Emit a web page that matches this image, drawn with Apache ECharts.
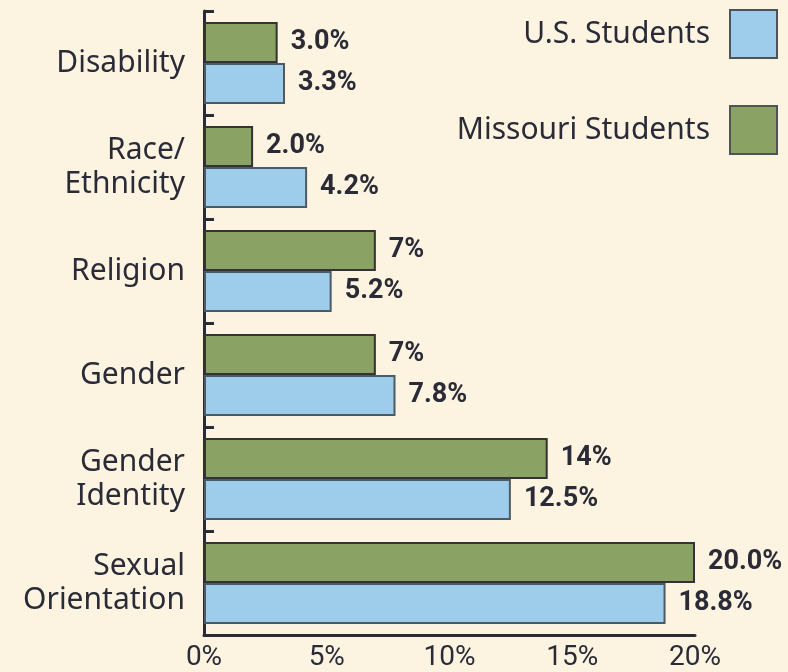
<!DOCTYPE html>
<html>
<head>
<meta charset="utf-8">
<script src="https://cdn.jsdelivr.net/npm/echarts@6/dist/echarts.min.js"></script>
<style>
html,body{margin:0;padding:0;background:#fcf4e0;}
#chart{width:788px;height:672px;}
</style>
</head>
<body>
<div id="chart"></div>
<script>
var categories = ['Disability', 'Race/\nEthnicity', 'Religion', 'Gender', 'Gender\nIdentity', 'Sexual\nOrientation'];
var usValues = [3.3, 4.2, 5.2, 7.8, 12.5, 18.8];
var usLabels = ['3.3%', '4.2%', '5.2%', '7.8%', '12.5%', '18.8%'];
var moValues = [3.0, 2.0, 7, 7, 14, 20.0];
var moLabels = ['3.0%', '2.0%', '7%', '7%', '14%', '20.0%'];
var xTicks = [0, 5, 10, 15, 20];

var textColor = '#2b2b38';
var narrow = 'Roboto';

var chart = echarts.init(document.getElementById('chart'));

function labelFor(arr){
	return {
		show: true,
		position: 'right',
		distance: 13,
		fontFamily: narrow,
		fontWeight: 'bold',
		fontSize: 27,
		color: textColor,
		formatter: function(p){ return arr[p.dataIndex]; }
	};
}

var option = {
	backgroundColor: '#fcf4e0',
	animation: false,
	grid: {
		left: 204,
		right: 93,
		top: 11,
		bottom: 36
	},
	legend: {
		orient: 'vertical',
		right: 5,
		top: 4,
		align: 'right',
		icon: 'rect',
		itemWidth: 47,
		itemHeight: 48,
		itemGap: 46,
		itemStyle: { borderColor: '#4f5358', borderWidth: 2 },
		textStyle: {
			fontFamily: 'Noto Sans',
			fontSize: 30,
			color: textColor,
			padding: [0, 15, 0, 0]
		},
		data: ['U.S. Students', 'Missouri Students']
	},
	xAxis: {
		type: 'value',
		min: 0,
		max: 20,
		interval: 5,
		axisLine: { show: true, lineStyle: { color: textColor, width: 3 } },
		axisTick: { show: false },
		splitLine: { show: false },
		axisLabel: {
			margin: 9,
			fontFamily: narrow,
			fontSize: 28,
			color: textColor,
			formatter: function(v){ return xTicks.indexOf(v) >= 0 ? v + '%' : ''; }
		}
	},
	yAxis: {
		type: 'category',
		inverse: true,
		data: categories,
		axisLine: { show: true, lineStyle: { color: textColor, width: 3 } },
		axisTick: { show: true, inside: true, length: 10, lineStyle: { color: textColor, width: 3 } },
		axisLabel: {
			margin: 19,
			fontFamily: 'Noto Sans',
			fontSize: 30,
			lineHeight: 34,
			color: textColor,
			align: 'right'
		}
	},
	series: [{
		name: 'Missouri Students',
		type: 'bar',
		data: moValues,
		barGap: '0%',
		barCategoryGap: '21%',
		itemStyle: { color: '#8aa364', borderColor: '#333333', borderWidth: 2 },
		label: labelFor(moLabels)
	}, {
		name: 'U.S. Students',
		type: 'bar',
		data: usValues,
		barGap: '0%',
		barCategoryGap: '21%',
		itemStyle: { color: '#9dcdeb', borderColor: '#4d5963', borderWidth: 2 },
		label: labelFor(usLabels)
	}]
};

chart.setOption(option);
</script>
</body>
</html>
